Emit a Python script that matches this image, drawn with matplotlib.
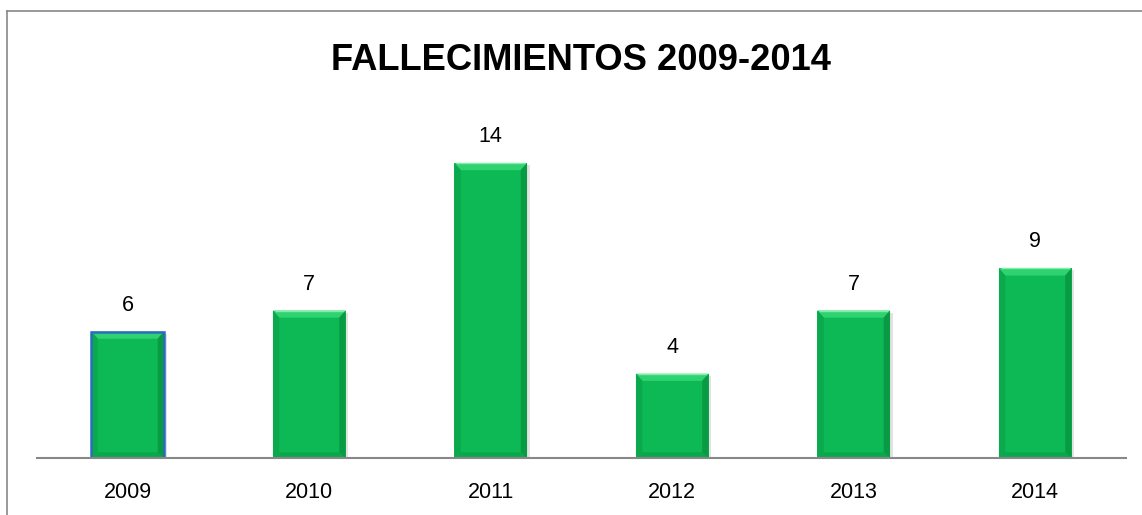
import matplotlib
matplotlib.use("Agg")
import matplotlib.pyplot as plt
from matplotlib.patches import Polygon
from matplotlib.lines import Line2D

years = ["2009", "2010", "2011", "2012", "2013", "2014"]
deaths = [6, 7, 14, 4, 7, 9]
title = "FALLECIMIENTOS 2009-2014"

W, H, DPI = 1142, 515, 100
fig = plt.figure(figsize=(W / DPI, H / DPI), dpi=DPI)
plt.rcParams['font.family'] = ['Liberation Sans', 'DejaVu Sans']

ax_left, ax_right = 37 / W, 1126 / W
ax_bottom = (H - 458) / H
ymax = 16
ax_top = (H - (458 - ymax * 21.07)) / H
ax = fig.add_axes([ax_left, ax_bottom, ax_right - ax_left, ax_top - ax_bottom])

x = list(range(len(years)))
main = "#0cb955"
bars = ax.bar(x, deaths, width=0.40, color=main, edgecolor="none", zorder=3)

# bevel decorations derived from each bar geometry
bx = 0.035  # horizontal bevel in data units
by = 0.34   # vertical bevel in data units
for i, b in enumerate(bars):
    x0 = b.get_x(); x1 = x0 + b.get_width(); y1 = b.get_height(); y0 = 0
    # shadow
    ax.add_patch(Polygon([(x0 + 0.012, y0), (x1 + 0.016, y0), (x1 + 0.016, y1 - 0.1), (x1, y1 - 0.1), (x1, y0)],
                         closed=True, color="#e2e2e2", zorder=2, lw=0))
    top = Polygon([(x0, y1), (x1, y1), (x1 - bx, y1 - by), (x0 + bx, y1 - by)], closed=True,
                  color="#2fd271", zorder=4, lw=0)
    bottom = Polygon([(x0, y0), (x1, y0), (x1 - bx, y0 + by * 0.8), (x0 + bx, y0 + by * 0.8)], closed=True,
                     color="#0aa84c", zorder=4, lw=0)
    left = Polygon([(x0, y0), (x0, y1), (x0 + bx, y1 - by), (x0 + bx, y0 + by * 0.8)], closed=True,
                   color="#0ba84d", zorder=4, lw=0)
    right = Polygon([(x1, y0), (x1, y1), (x1 - bx, y1 - by), (x1 - bx, y0 + by * 0.8)], closed=True,
                    color="#099a44", zorder=4, lw=0)
    for p in (top, bottom, left, right):
        ax.add_patch(p)
    ax.plot([x0 + 0.01, x1 - 0.01], [y1, y1], color="#7ff0a8", lw=1, zorder=5, solid_capstyle="butt")
    if i == 0:
        ax.add_patch(Polygon([(x0, y0), (x0, y1), (x1, y1), (x1, y0)], closed=True, fill=False,
                             edgecolor="#2a6cc0", lw=1.8, zorder=6))
    ax.annotate(str(deaths[i]), (b.get_x() + b.get_width() / 2, y1), xytext=(0, 11.5),
                textcoords="offset points", ha="center", va="bottom", fontsize=15.5, color="#000000")

ax.set_xlim(-0.5, len(years) - 0.5)
ax.set_ylim(0, ymax)
ax.set_xticks(x)
ax.set_xticklabels(years, fontsize=15.5)
ax.tick_params(axis="x", length=0, pad=17)
ax.set_yticks([])
for s in ("top", "right", "left"):
    ax.spines[s].set_visible(False)
ax.spines["bottom"].set_color("#888888")
ax.spines["bottom"].set_linewidth(1.5)
ax.spines["bottom"].set_zorder(7)

fig.text(581 / W, 1 - 61 / H, title, ha="center", va="center", fontsize=26.2, fontweight="bold", color="#000000")

# outer frame lines
fig.add_artist(Line2D([7 / W, 1.0], [1 - 11 / H, 1 - 11 / H], color="#888888", lw=1.2, transform=fig.transFigure))
fig.add_artist(Line2D([7 / W, 7 / W], [0, 1 - 11 / H], color="#888888", lw=1.2, transform=fig.transFigure))

fig.savefig("out.png", dpi=DPI)
